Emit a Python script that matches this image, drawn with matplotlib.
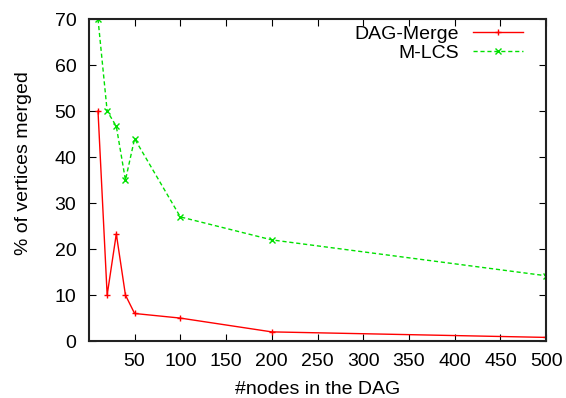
import matplotlib
matplotlib.use("Agg")
import matplotlib.pyplot as plt

nodes = [10, 20, 30, 40, 50, 100, 200, 500]
dag_merge = [50, 10, 23.3, 10, 6, 5, 2, 0.8]
mlcs = [70, 50, 46.7, 35, 44, 27, 22, 14.2]
xticks = [50, 100, 150, 200, 250, 300, 350, 400, 450, 500]
yticks = [0, 10, 20, 30, 40, 50, 60, 70]

plt.rcParams['font.family'] = ['Liberation Sans', 'DejaVu Sans']
fig = plt.figure(figsize=(5.66, 3.98), dpi=100)
ax = fig.add_axes([0.157, 0.143, 0.808, 0.809])
ax.plot(nodes, dag_merge, color='#ff0000', lw=1.0, marker='+', ms=5, mew=1.0, label='DAG-Merge')
ax.plot(nodes, mlcs, color='#00e000', lw=1.0, ls=(0, (3, 2)), marker='x', ms=4, mew=1.0, label='M-LCS')
ax.set_xlim(0, 500)
ax.set_ylim(0, 70)
ax.set_xticks(xticks)
ax.set_yticks(yticks)
ax.tick_params(direction='in', top=True, right=True, labelsize=14, length=5, width=0.8)
ax.tick_params(axis='y', pad=9)
ax.tick_params(axis='x', pad=8.5)
for s in ax.spines.values():
    s.set_linewidth(1.5)
    s.set_color('#222222')
ax.set_xlabel('#nodes in the DAG', fontsize=14)
ax.set_ylabel('% of vertices merged', fontsize=14)
ax.xaxis.set_label_coords(0.5, -0.124)
ax.yaxis.set_label_coords(-0.142, 0.553)
ax.yaxis.label.set_va('center')
leg = ax.legend(loc='upper right', bbox_to_anchor=(0.963, 0.998), frameon=False, markerfirst=False,
                fontsize=14, handlelength=2.6, borderaxespad=0.0, borderpad=0.3,
                labelspacing=0.05, handletextpad=0.7)
for t in leg.get_texts():
    t.set_ha('right')
fig.savefig('out.png', dpi=100)
